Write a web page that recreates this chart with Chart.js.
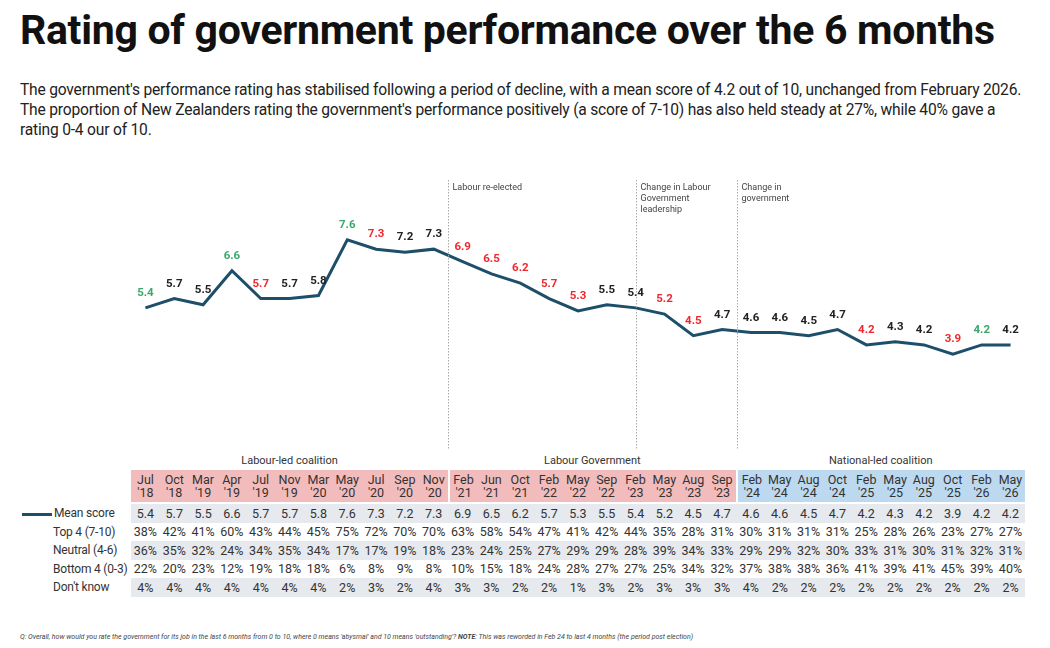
<!DOCTYPE html>
<html><head><meta charset="utf-8">
<script src="https://cdn.jsdelivr.net/npm/chart.js@4"></script>
<style>
body{margin:0;width:1050px;height:648px;background:#fff;font-family:Roboto,sans-serif;color:#111;position:relative;overflow:hidden}
h1{position:absolute;left:20px;top:6px;margin:0;font-size:41px;font-weight:700;letter-spacing:-0.3px}
#intro{position:absolute;left:20px;top:80px;width:1030px;font-size:15.6px;letter-spacing:-0.2px;line-height:20px;color:#222;white-space:nowrap}
#wrap{position:absolute;left:131px;top:175px;width:894px;height:275px}
table{position:absolute;left:20px;top:450px;width:1005px;border-collapse:separate;border-spacing:0;font-size:12.5px;table-layout:fixed}
td{padding:0;text-align:center;height:18.5px;color:#333}
td.lab{text-align:left;white-space:nowrap;overflow:visible;font-size:12px;letter-spacing:-0.2px}
tr.g td.c{background:#e6e9ee}
tr.hd td.c{line-height:13px;height:32px;border-bottom:2px solid #fff}
tr.grp td{height:20px;font-size:11px;color:#333}
#foot{position:absolute;left:20px;top:633px;font-size:7px;font-style:italic;color:#444}
</style></head><body>
<h1>Rating of government performance over the 6 months</h1>
<div id="intro">The government's performance rating has stabilised following a period of decline, with a mean score of 4.2 out of 10, unchanged from February 2026.<br>The proportion of New Zealanders rating the government's performance positively (a score of 7-10) has also held steady at 27%, while 40% gave a<br>rating 0-4 our of 10.</div>
<div id="wrap"><canvas id="c"></canvas></div>
<table id="t"></table>
<div id="foot">Q: Overall, how would you rate the government for its job in the last 6 months from 0 to 10, where 0 means 'abysmal' and 10 means 'outstanding'? <b>NOTE</b>: This was reworded in Feb 24 to last 4 months (the period post election)</div>
<script>
const months = ["Jul","Oct","Mar","Apr","Jul","Nov","Mar","May","Jul","Sep","Nov","Feb","Jun","Oct","Feb","May","Sep","Feb","May","Aug","Sep","Feb","May","Aug","Oct","Feb","May","Aug","Oct","Feb","May"];
const years = ["'18","'18","'19","'19","'19","'19","'20","'20","'20","'20","'20","'21","'21","'21","'22","'22","'22","'23","'23","'23","'23","'24","'24","'24","'24","'25","'25","'25","'25","'26","'26"];
const meanScore = [5.4,5.7,5.5,6.6,5.7,5.7,5.8,7.6,7.3,7.2,7.3,6.9,6.5,6.2,5.7,5.3,5.5,5.4,5.2,4.5,4.7,4.6,4.6,4.5,4.7,4.2,4.3,4.2,3.9,4.2,4.2];
const top4 = [38,42,41,60,43,44,45,75,72,70,70,63,58,54,47,41,42,44,35,28,31,30,31,31,31,25,28,26,23,27,27];
const neutral = [36,35,32,24,34,35,34,17,17,19,18,23,24,25,27,29,29,28,39,34,33,29,29,32,30,33,31,30,31,32,31];
const bottom4 = [22,20,23,12,19,18,18,6,8,9,8,10,15,18,24,28,27,27,25,34,32,37,38,38,36,41,39,41,45,39,40];
const dontKnow = [4,4,4,4,4,4,4,2,3,2,4,3,3,2,2,1,3,2,3,3,3,4,2,2,2,2,2,2,2,2,2];
// label colour: 1 = significant rise, -1 = significant fall
const change = [1,0,0,1,-1,0,0,1,-1,0,0,-1,-1,-1,-1,-1,0,0,-1,-1,0,0,0,0,0,-1,0,0,-1,1,0];
const events = [{at:10.5,text:["Labour re-elected"]},{at:17,text:["Change in Labour","Government","leadership"]},{at:20.5,text:["Change in","government"]}];

// table
const t = document.getElementById("t");
let h = '<colgroup><col style="width:111px">' + months.map(()=>'<col style="width:28.83px">').join("") + '</colgroup>';
h += '<tr class="grp"><td class="lab"></td><td class="c" colspan="11">Labour-led coalition</td><td class="c" colspan="10">Labour Government</td><td class="c" colspan="10">National-led coalition</td></tr>';
h += '<tr class="hd"><td class="lab"></td>' + months.map((m,i)=>`<td class="c" style="background:${i<21?'#f2bcbc':'#bcd9ef'};${i==11||i==21?'border-left:2px solid #fff':''}">${m}<br>${years[i]}</td>`).join("") + '</tr>';
const rows = [["Mean score",meanScore.map(v=>v.toFixed(1)),true],["Top 4 (7-10)",top4.map(v=>v+"%"),false],["Neutral (4-6)",neutral.map(v=>v+"%"),true],["Bottom 4 (0-3)",bottom4.map(v=>v+"%"),false],["Don't know",dontKnow.map(v=>v+"%"),true]];
rows.forEach((r,k)=>{
  const lab = k==0 ? '<span style="display:inline-block;width:30px;height:3px;background:#1d4e6a;vertical-align:middle;margin:0 2px 0 2px"></span>'+r[0] : '<span style="padding-left:33px">'+r[0]+'</span>';
  h += `<tr class="${r[2]?'g':''}"><td class="lab">${lab}</td>` + r[1].map(v=>`<td class="c">${v}</td>`).join("") + '</tr>';
});
t.innerHTML = h;

const overlay = {
  id:"overlay",
  afterDatasetsDraw(chart){
    const {ctx,scales:{x}} = chart;
    ctx.save();
    ctx.setLineDash([1.5,1.5]);ctx.strokeStyle="#aaa";ctx.lineWidth=1;
    ctx.font="9px Roboto";ctx.fillStyle="#444";ctx.textBaseline="top";
    events.forEach(e=>{
      const px = Math.round(x.getPixelForValue(Math.floor(e.at)) + (e.at%1?x.width/months.length/2:0))+0.5;
      ctx.beginPath();ctx.moveTo(px,5);ctx.lineTo(px,chart.height);ctx.stroke();
      e.text.forEach((s,i)=>ctx.fillText(s,px+4,8+i*11));
    });
    ctx.setLineDash([]);
    ctx.font="bold 11.5px Roboto";ctx.textAlign="center";ctx.textBaseline="bottom";
    const meta = chart.getDatasetMeta(0);
    meta.data.forEach((p,i)=>{
      ctx.fillStyle = change[i]>0?"#3aa86b":change[i]<0?"#f0282d":"#222";
      ctx.fillText(meanScore[i].toFixed(1),p.x,p.y-9);
    });
    ctx.restore();
  }
};
new Chart(document.getElementById("c"),{
  type:"line",
  data:{labels:months.map((m,i)=>m+" "+years[i]),datasets:[{data:meanScore,borderColor:"#1d4e6a",borderWidth:3,pointRadius:0,tension:0}]},
  options:{responsive:true,maintainAspectRatio:false,animation:false,
    layout:{padding:0},
    plugins:{legend:{display:false},tooltip:{enabled:false}},
    scales:{x:{display:false,offset:true},y:{display:false,min:0.8,max:9.7}}},
  plugins:[overlay]
});
</script>
</body></html>
